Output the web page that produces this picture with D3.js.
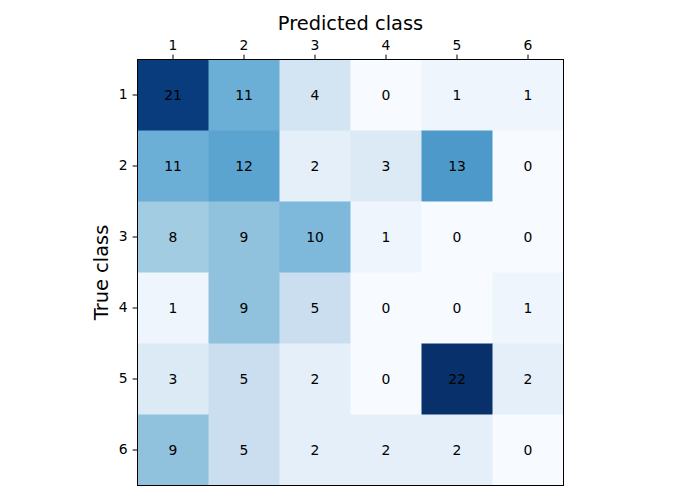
<!DOCTYPE html>
<html><head><meta charset="utf-8">
<script src="https://cdn.jsdelivr.net/npm/d3@7"></script>
<style>body{margin:0;background:#fff}svg{display:block}text{font-family:"DejaVu Sans",sans-serif}</style>
</head><body><svg id="c" width="700" height="500"></svg>
<script>
const predLabels = ["1","2","3","4","5","6"];
const trueLabels = ["1","2","3","4","5","6"];
const matrix = [
  [21,11,4,0,1,1],
  [11,12,2,3,13,0],
  [8,9,10,1,0,0],
  [1,9,5,0,0,1],
  [3,5,2,0,22,2],
  [9,5,2,2,2,0]
];
const bluesStops = ["#f7fbff","#deebf7","#c6dbef","#9ecae1","#6baed6","#4292c6","#2171b5","#08519c","#08306b"];

const svg = d3.select("#c");
const L=137.5, T=59.5, S=426;
const x = d3.scaleBand().domain(predLabels).range([L, L+S]);
const y = d3.scaleBand().domain(trueLabels).range([T, T+S]);
const vmax = d3.max(matrix.flat()), vmin = d3.min(matrix.flat());
const norm = d3.scaleLinear().domain([vmin, vmax]).range([0,1]);
const cmap = d3.scaleLinear().domain(bluesStops.map((d,i)=>i/(bluesStops.length-1))).range(bluesStops).interpolate(d3.interpolateRgb);

const cells = [];
matrix.forEach((row,i)=>row.forEach((v,j)=>cells.push({r:trueLabels[i], c:predLabels[j], v})));

svg.append("g").selectAll("rect").data(cells).join("rect")
  .attr("x", d=>x(d.c)).attr("y", d=>y(d.r))
  .attr("width", x.bandwidth()+0.5).attr("height", y.bandwidth()+0.5)
  .attr("fill", d=>cmap(norm(d.v)));

svg.append("g").selectAll("text").data(cells).join("text")
  .attr("x", d=>x(d.c)+x.bandwidth()/2).attr("y", d=>y(d.r)+y.bandwidth()/2)
  .attr("text-anchor","middle").attr("dominant-baseline","central")
  .attr("font-size","13.9px").attr("fill","#000").text(d=>d.v);

svg.append("rect").attr("x",L).attr("y",T).attr("width",S).attr("height",S)
  .attr("fill","none").attr("stroke","#000").attr("stroke-width",1);

const xAxis = svg.append("g").attr("transform",`translate(0,${T})`)
  .call(d3.axisTop(x).tickSize(4.9).tickPadding(4.9));
const yAxis = svg.append("g").attr("transform",`translate(${L},0)`)
  .call(d3.axisLeft(y).tickSize(4.9).tickPadding(4.9));
[xAxis,yAxis].forEach(a=>{
  a.select(".domain").remove();
  a.selectAll("text").attr("font-size","13.9px").attr("font-family","DejaVu Sans").attr("fill","#000");
  a.selectAll("line").attr("stroke","#000");
});

svg.append("text").attr("x", L+S/2).attr("y", 30).attr("text-anchor","middle")
  .attr("font-size","19.4px").attr("fill","#000").text("Predicted class");
svg.append("text").attr("transform",`translate(108,${T+S/2}) rotate(-90)`).attr("text-anchor","middle")
  .attr("font-size","19.4px").attr("fill","#000").text("True class");
</script></body></html>
